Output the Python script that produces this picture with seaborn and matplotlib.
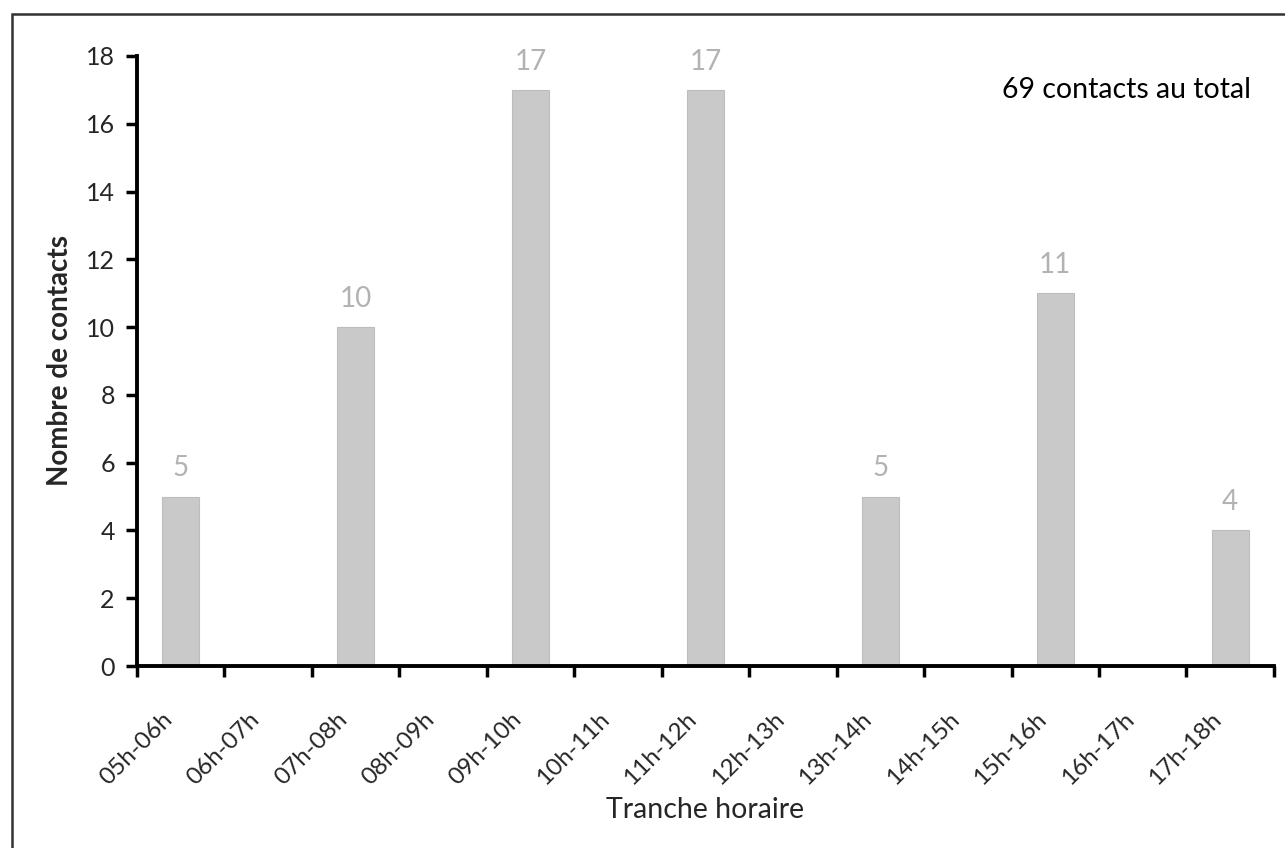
import matplotlib
matplotlib.use("Agg")
import matplotlib.pyplot as plt
import matplotlib.transforms as mtransforms
import seaborn as sns
import pandas as pd
import numpy as np
from matplotlib.patches import Rectangle

tranches = ['05h-06h', '06h-07h', '07h-08h', '08h-09h', '09h-10h', '10h-11h',
            '11h-12h', '12h-13h', '13h-14h', '14h-15h', '15h-16h', '16h-17h', '17h-18h']
contacts = [5, 0, 10, 0, 17, 0, 17, 0, 5, 0, 11, 0, 4]
yticks = [0, 2, 4, 6, 8, 10, 12, 14, 16, 18]

df = pd.DataFrame({'Tranche horaire': tranches, 'Nombre de contacts': contacts})

sns.set_style("white")
plt.rcParams['font.family'] = ['Lato', 'DejaVu Sans']

fig = plt.figure(figsize=(12.85, 8.48), dpi=100)
ax = fig.add_axes([0.1066, 0.2146, 0.8848, 0.7194])

sns.barplot(x='Tranche horaire', y='Nombre de contacts', data=df, color='#c9c9c9',
            saturation=1, width=0.42, edgecolor='#bdbdbd', linewidth=0.8, ax=ax)

# value labels above the non-empty bars
for i, v in enumerate(contacts):
    if v > 0:
        ax.text(i, v + 0.45, str(v), ha='center', va='bottom', fontsize=20,
                color='#b2b2b2')

n = len(tranches)
ax.set_xlim(-0.5, n - 0.5)
ax.set_ylim(0, 18)
ax.set_yticks(yticks)
ax.set_yticklabels([str(t) for t in yticks], fontsize=18)

# tick marks at the boundaries, labels at the centres
ax.set_xticks(np.arange(-0.5, n, 1.0))
ax.set_xticklabels([])
ax.set_xticks(np.arange(n), minor=True)
ax.set_xticklabels(tranches, minor=True, rotation=45, ha='right', va='center',
                   rotation_mode='anchor', fontsize=17.5)
ax.tick_params(axis='x', which='minor', bottom=False, length=0, pad=36)
ax.tick_params(axis='x', which='major', bottom=True, direction='out', length=8, width=2.5,
               color='black')
ax.tick_params(axis='y', left=True, direction='out', length=8, width=2.5, color='black', pad=8)
shift = mtransforms.ScaledTranslation(-0.12, 0, fig.dpi_scale_trans)
for lbl in ax.get_xticklabels(minor=True):
    lbl.set_transform(lbl.get_transform() + shift)

sns.despine(ax=ax)
for s in ['left', 'bottom']:
    ax.spines[s].set_linewidth(2.8)
    ax.spines[s].set_color('black')

ax.set_xlabel('Tranche horaire', fontsize=20.5)
ax.xaxis.set_label_coords(0.5, -0.215)
ax.set_ylabel('Nombre de contacts', fontsize=20, fontweight='bold', labelpad=9)

ax.text(0.98, 0.945, '69 contacts au total', transform=ax.transAxes, ha='right',
        va='center', fontsize=20.5, color='black')

# outer frame (left and top edges visible)
fig.patches.append(Rectangle((12 / 1285, -0.1), 1.2, 1 - 14 / 848 + 0.1,
                             transform=fig.transFigure, fill=False,
                             edgecolor='#333333', linewidth=1.8))

fig.savefig('out.png', dpi=100)
plt.close()
